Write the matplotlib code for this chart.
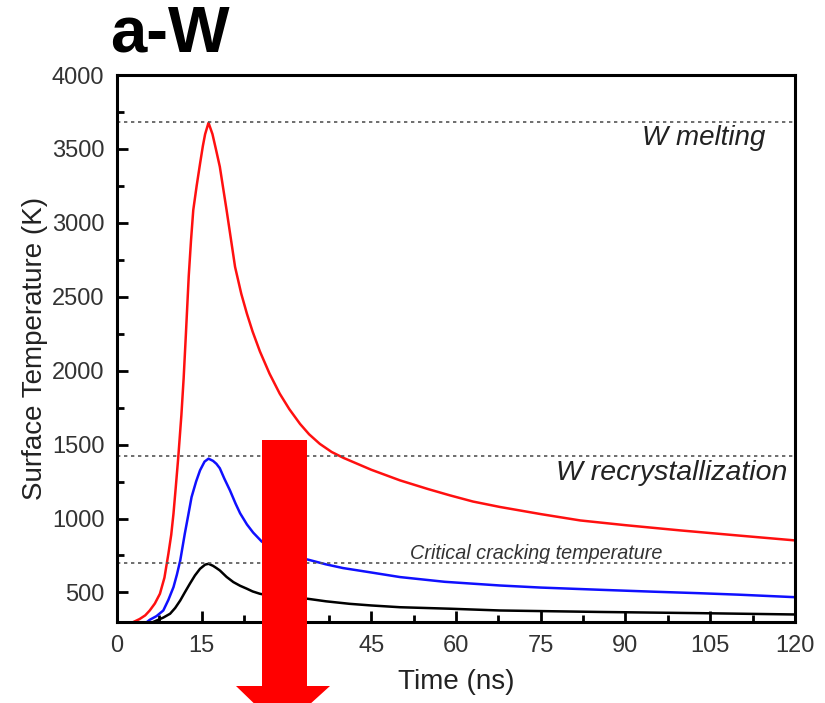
import matplotlib
matplotlib.use("Agg")
import matplotlib.pyplot as plt
from matplotlib.patches import Polygon
from matplotlib.ticker import MultipleLocator

plt.rcParams['font.family'] = ['Liberation Sans', 'DejaVu Sans']

# Data
t_red = [2.9, 4.0, 5.0, 5.8, 6.7, 7.6, 8.4, 9.1, 9.6, 10.0, 10.4, 10.85, 11.4, 11.8, 12.2, 12.7,
         13.1, 13.5, 14.1, 14.7, 15.2, 15.6, 16.2, 16.9, 17.5, 18.2, 19.4, 20.9, 22.0, 23.0,
         24.0, 25.3, 27.0, 28.8, 30.5, 32.4, 34.0, 35.9, 38.0, 40.1, 45.0, 50.1, 55.0, 58.9,
         63.0, 67.8, 75.0, 82.0, 90.0, 99.6, 110.0, 120.0]
T_red = [300, 320, 345, 378, 425, 491, 600, 762, 890, 1033, 1210, 1416, 1700, 1950, 2250, 2640,
         2880, 3086, 3250, 3400, 3520, 3600, 3677, 3600, 3500, 3380, 3086, 2702, 2520, 2385,
         2265, 2130, 1980, 1845, 1740, 1640, 1570, 1505, 1450, 1410, 1330, 1258, 1200, 1157,
         1115, 1078, 1030, 987, 955, 920, 885, 852]

t_blue = [5.3, 5.8, 7.0, 8.2, 9.1, 10.0, 10.6, 11.2, 12.0, 12.6, 13.2, 14.0, 14.7, 15.5, 16.2,
          17.0, 17.6, 18.2, 19.0, 20.0, 21.0, 21.8, 23.0, 24.1, 25.6, 27.0, 29.0, 31.0, 33.8,
          37.0, 40.0, 45.0, 50.1, 58.0, 67.8, 75.0, 85.5, 95.0, 103.0, 110.0, 120.0]
T_blue = [300, 315, 340, 378, 450, 536, 620, 717, 897, 1020, 1145, 1250, 1326, 1385, 1405,
          1390, 1370, 1340, 1270, 1190, 1100, 1035, 960, 905, 845, 805, 770, 745, 722,
          690, 665, 635, 604, 572, 547, 533, 518, 505, 495, 485, 468]

t_black = [6.4, 7.0, 8.2, 9.4, 10.3, 11.2, 12.0, 12.9, 13.8, 14.7, 15.6, 16.2, 17.0, 17.6, 18.2,
           19.4, 20.6, 21.8, 23.0, 24.0, 25.3, 27.0, 29.0, 33.8, 37.0, 41.2, 45.0, 50.1, 58.9,
           67.8, 85.5, 103.0, 120.0]
T_black = [300, 310, 330, 356, 395, 446, 500, 559, 615, 660, 688, 694, 680, 665, 649,
           605, 570, 545, 525, 507, 491, 478, 470, 457, 440, 423, 412, 400, 390,
           378, 368, 360, 351]

ref_levels = [3680, 1420, 700]
ref_labels = ["W melting", "W recrystallization", "Critical cracking temperature"]

x_ticks = [0, 15, 30, 45, 60, 75, 90, 105, 120]
x_ticklabels = ["0", "15", "", "45", "60", "75", "90", "105", "120"]
y_ticks = [500, 1000, 1500, 2000, 2500, 3000, 3500, 4000]

fig = plt.figure(figsize=(8.25, 7.03), dpi=100)
ax = fig.add_axes([0.1418, 0.1152, 0.9636 - 0.1418, 0.8933 - 0.1152])

ax.plot(t_red, T_red, color='#ff1010', lw=1.8)
ax.plot(t_blue, T_blue, color='#1010ff', lw=1.8)
ax.plot(t_black, T_black, color='black', lw=1.8)

for lvl in ref_levels:
    ax.axhline(lvl, color='#555555', lw=1.2, ls=(0, (2, 2.2)))

ax.text(114.7, 3574, ref_labels[0], style='italic', fontsize=20, ha='right', va='center', color='#222222')
ax.text(118.6, 1306, ref_labels[1], style='italic', fontsize=20.5, ha='right', va='center', color='#222222')
ax.text(74.2, 764, ref_labels[2], style='italic', fontsize=14.3, ha='center', va='center', color='#333333')

ax.set_xlim(0, 120)
ax.set_ylim(300, 4000)
ax.set_xticks(x_ticks)
ax.set_xticklabels(x_ticklabels)
ax.set_yticks(y_ticks)
ax.xaxis.set_minor_locator(MultipleLocator(7.5))
ax.yaxis.set_minor_locator(MultipleLocator(250))
ax.tick_params(which='major', direction='in', length=8, width=2, labelsize=17, pad=9,
               labelcolor='#333333')
ax.tick_params(which='minor', direction='in', length=5, width=2)
for s in ax.spines.values():
    s.set_linewidth(2.2)

ax.set_xlabel("Time (ns)", fontsize=20, color='#222222', labelpad=9)
ax.set_ylabel("Surface Temperature (K)", fontsize=20, color='#222222', labelpad=3)

fig.text(110 / 825, 1 - 51 / 703, "a-W", fontsize=47, fontweight='bold', ha='left', va='baseline')

# Red downward arrow overlay (figure pixel coordinates)
W, H = 825.0, 703.0
pts = [(262, 440), (307, 440), (307, 686), (330, 686), (298, 715), (266, 715),
       (236, 686), (262, 686)]
arrow = Polygon([(x / W, 1 - y / H) for x, y in pts], closed=True, transform=fig.transFigure,
                facecolor='#ff0000', edgecolor='none', zorder=10)
fig.patches.append(arrow)

fig.savefig("out.png", dpi=100)
